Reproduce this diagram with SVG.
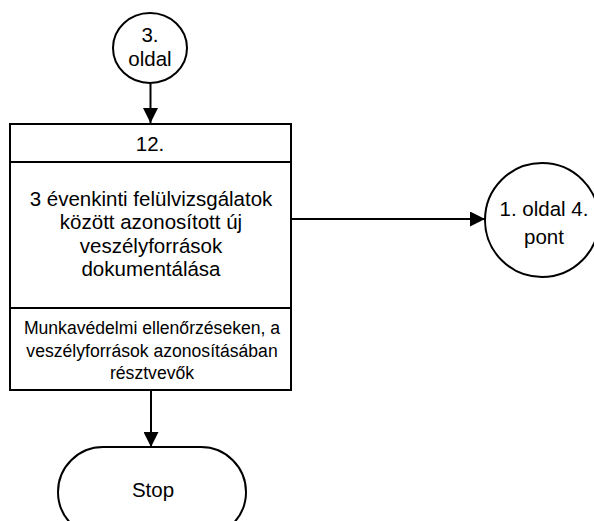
<svg xmlns="http://www.w3.org/2000/svg" width="594" height="521" viewBox="0 0 594 521">
<defs>
<style>
.shape{fill:#fff;stroke:#000;stroke-width:2}
.line{fill:none;stroke:#000;stroke-width:2}
text{font-family:"Liberation Sans",Arial,sans-serif;fill:#000;text-anchor:middle}
.t20{font-size:20.5px}
.t16{font-size:17.6px}
</style>
<marker id="arr" viewBox="0 0 10 10" refX="10" refY="5" markerWidth="7.5" markerHeight="7.5" markerUnits="strokeWidth" orient="auto">
<path d="M0,0 L10,5 L0,10 Z" fill="#000"/>
</marker>
</defs>
<rect width="594" height="521" fill="#fff"/>
<g id="connectors">
<line class="line" x1="150.5" y1="83" x2="150.5" y2="123" marker-end="url(#arr)"/>
<line class="line" x1="291" y1="219" x2="485" y2="219" marker-end="url(#arr)"/>
<line class="line" x1="151" y1="390" x2="151" y2="447" marker-end="url(#arr)"/>
</g>
<g id="node-page3">
<ellipse class="shape" cx="150" cy="48" rx="37" ry="35"/>
<text class="t20" x="150" y="42">3.</text>
<text class="t20" x="150" y="66">oldal</text>
</g>
<g id="node-12">
<rect class="shape" x="10" y="124" width="281" height="266"/>
<line class="line" x1="10" y1="162" x2="291" y2="162"/>
<line class="line" x1="10" y1="308" x2="291" y2="308"/>
<text class="t20" x="150" y="151">12.</text>
<text class="t20" x="151" y="206">3 évenkinti felülvizsgálatok</text>
<text class="t20" x="151" y="229">között azonosított új</text>
<text class="t20" x="151" y="253">veszélyforrások</text>
<text class="t20" x="151" y="276">dokumentálása</text>
<text class="t16" x="152" y="334">Munkavédelmi ellenőrzéseken, a</text>
<text class="t16" x="152" y="357">veszélyforrások azonosításában</text>
<text class="t16" x="152" y="379">résztvevők</text>
</g>
<g id="node-page1">
<circle class="shape" cx="542" cy="220" r="57"/>
<text class="t20" x="544" y="216">1. oldal 4.</text>
<text class="t20" x="544" y="244">pont</text>
</g>
<g id="node-stop">
<rect class="shape" x="58" y="447" width="188" height="90" rx="45" ry="45"/>
<text class="t20" x="153" y="497">Stop</text>
</g>
</svg>
